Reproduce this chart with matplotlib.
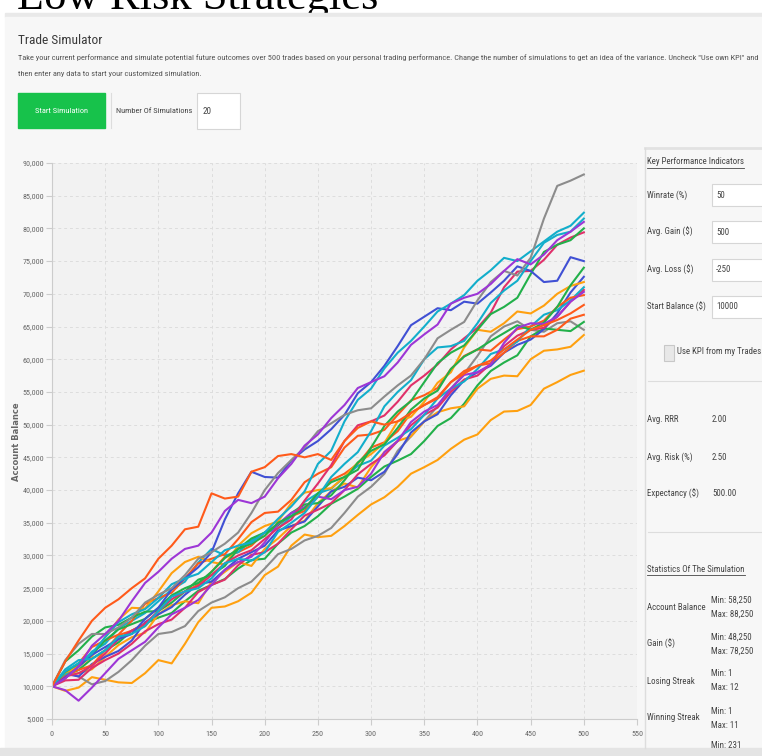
import matplotlib
matplotlib.use("Agg")
import matplotlib.pyplot as plt
from matplotlib import font_manager
from matplotlib.patches import Rectangle
from matplotlib.ticker import FuncFormatter

# balances every 12.5 trades
trades = [i * 12.5 for i in range(41)]

or1 = [10000, 13800, 17000, 20000, 22000, 23300, 25000, 26500, 29500, 31500, 34000, 34400, 39500, 38700, 39000, 42800, 43500, 45200, 45500, 45000, 45500,
       44600, 47500, 49500, 50500, 50000, 50500, 51800, 53000, 54000, 56500, 57800, 59000, 59800, 61500, 63000, 64500, 65200, 66000, 67000, 68300]
or2 = [10000, 11800, 12500, 13200, 15500, 17800, 18500, 19200, 21500, 23800, 24500, 25500, 27500, 29800, 30500, 31500, 33500, 34800, 36000, 36800, 39000,
       41500, 42500, 44000, 46500, 47300, 49000, 51800, 53000, 54200, 56500, 58200, 59000, 59400, 61000, 62800, 63500, 63500, 64500, 66200, 66800]
or3 = [10000, 11200, 13500, 16000, 17000, 17900, 20000, 22600, 23500, 24300, 26500, 28800, 29500, 30200, 32500, 35100, 36500, 36700, 38500, 41200, 42500,
       43500, 46500, 48300, 48500, 49200, 51500, 53700, 54500, 55600, 58500, 60500, 61500, 61300, 63000, 64600, 65000, 65900, 68000, 69400, 69800]
o1 = [10000, 9300, 9800, 11400, 11000, 10600, 10500, 12000, 14000, 13500, 16500, 19800, 22000, 22200, 23000, 24300, 27000, 28300, 31500, 33200, 32800,
      33000, 34500, 36200, 37800, 38900, 40500, 42500, 43500, 44600, 46300, 47700, 48500, 50700, 52000, 52100, 53000, 55500, 56500, 57600, 58250]
o2 = [10000, 11800, 12000, 12600, 14500, 16300, 17500, 18200, 21000, 22400, 23000, 22700, 26000, 27500, 29000, 28400, 31000, 32600, 34500, 35300, 38000,
      39800, 41000, 40400, 43500, 45800, 47500, 48200, 50500, 51900, 52500, 52800, 55500, 57000, 57500, 57400, 60000, 61300, 61500, 61900, 63700]
o3 = [10000, 12100, 13000, 14600, 17500, 20200, 22000, 21900, 24500, 27300, 29000, 29800, 29000, 28600, 31500, 33400, 34500, 35200, 38000, 39600, 40000,
      40300, 42000, 44200, 45500, 47200, 50500, 51200, 53500, 56400, 58000, 61800, 64500, 64200, 65500, 67300, 67000, 68200, 70000, 71200, 71800]
g1 = [10000, 14000, 16500, 18000, 18000, 19000, 20500, 22800, 24000, 25000, 27000, 29500, 30500, 31800, 33500, 36500, 40000, 42600, 44600, 46500, 49000,
      50200, 51500, 52200, 52500, 54300, 56000, 57500, 60000, 63200, 64500, 65700, 69000, 71800, 73500, 72800, 75500, 81500, 86500, 87300, 88250]
g2 = [10000, 12200, 11500, 10300, 10800, 12200, 14000, 16200, 18000, 18300, 19200, 21500, 22800, 23600, 25000, 26000, 28000, 30200, 31000, 32300, 33000,
      34200, 36500, 39000, 40500, 42500, 46000, 48200, 50500, 52800, 55500, 57800, 60500, 63500, 65000, 65800, 64500, 64200, 65500, 65800, 64500]
p1 = [10000, 11200, 13000, 16200, 18000, 20000, 23000, 25800, 27500, 29500, 31000, 31500, 33500, 36800, 38500, 38000, 39000, 41800, 44000, 46800, 48500,
      51000, 53000, 55600, 56500, 57400, 59500, 62200, 63800, 65300, 68500, 69400, 70000, 71500, 73500, 75300, 74500, 76000, 78200, 79500, 81000]
p2 = [10000, 9400, 7800, 9800, 12000, 14200, 15500, 16800, 19000, 21000, 22000, 23200, 25500, 27800, 29000, 29800, 32000, 34800, 36500, 37400, 39000,
      38600, 40000, 40500, 42500, 45800, 47500, 50400, 52000, 53000, 55500, 57600, 58000, 59200, 62500, 64800, 65500, 65400, 66500, 68800, 70300]
c1 = [10000, 12300, 13500, 15000, 17500, 19800, 21000, 21800, 23500, 25600, 26500, 27200, 29000, 30800, 31500, 32000, 33500, 35600, 37500, 39800, 44000,
      46000, 50500, 53800, 55500, 58600, 61000, 62800, 65000, 67300, 68500, 69800, 72000, 73600, 75500, 75000, 76500, 78000, 79500, 80400, 82400]
c2 = [10000, 12600, 14000, 14200, 15500, 17600, 18000, 19200, 21500, 23700, 24500, 25000, 26500, 28800, 29500, 29200, 30500, 33600, 35000, 36500, 39000,
      42000, 44000, 45800, 49000, 52800, 55000, 56800, 60000, 61800, 62000, 62800, 65500, 68600, 70500, 72000, 75000, 77800, 79000, 79500, 81500]
c3 = [10000, 11800, 13000, 15300, 16500, 18900, 20000, 21200, 23000, 24800, 26000, 28900, 31000, 30000, 30500, 32300, 33500, 34100, 36000, 38200, 39500,
      40200, 42000, 43700, 44500, 46800, 48000, 49300, 51500, 54000, 55500, 56600, 58500, 60800, 61500, 62700, 65000, 66800, 67500, 69000, 71000]
b1 = [10000, 11300, 13000, 14800, 16000, 17200, 18000, 20300, 22000, 24800, 26500, 28200, 30500, 35500, 39500, 42800, 42000, 41900, 44500, 46200, 47500,
      49300, 51500, 54800, 56500, 59000, 62000, 65200, 66500, 67800, 67500, 68800, 68500, 70200, 72000, 74200, 73500, 71800, 72000, 75600, 75000]
b2 = [10000, 11900, 11500, 13400, 14500, 15400, 17000, 19800, 21000, 22100, 24000, 25600, 26000, 27800, 29500, 30500, 31500, 33800, 34500, 35200, 37500,
      39800, 40500, 41900, 41500, 42800, 45500, 48800, 50500, 51600, 54500, 56800, 58000, 59000, 61000, 62200, 63000, 64600, 67000, 70200, 72600]
gr1 = [10000, 12200, 13500, 14900, 17000, 18700, 19500, 20300, 22000, 23900, 25000, 25800, 27500, 29600, 31000, 31800, 33000, 35000, 36000, 37200, 39500,
       41200, 42000, 43100, 46500, 49800, 52000, 53600, 56500, 59400, 61000, 62100, 64500, 66900, 68000, 69400, 73000, 76400, 77500, 78200, 80000]
gr2 = [10000, 13800, 15500, 17600, 19000, 19400, 20500, 21400, 21500, 22800, 24500, 26300, 27000, 28400, 31000, 32600, 33500, 34600, 36500, 37800, 38000,
       39200, 41500, 44200, 46000, 47000, 49500, 52300, 54000, 55200, 58500, 60400, 61500, 62800, 64000, 65200, 64500, 65600, 68000, 71300, 74000]
gr3 = [10000, 11600, 12500, 14200, 15500, 16700, 18500, 19600, 20500, 21200, 23000, 24600, 25500, 26400, 28000, 29300, 29500, 31800, 33500, 34500, 36000,
       37900, 39000, 40200, 42000, 43600, 44500, 45500, 47500, 49800, 51000, 53200, 56000, 58200, 59500, 60600, 63500, 64700, 64500, 64300, 65700]
r1 = [10000, 11500, 12000, 13100, 15000, 17200, 18500, 19600, 21500, 23300, 24500, 25300, 27000, 28800, 30000, 30800, 32500, 34200, 35500, 38400, 41000,
      43800, 47500, 49900, 50500, 51400, 53500, 56000, 57500, 59200, 61500, 63200, 64800, 67100, 71000, 73400, 73500, 75200, 77500, 78600, 79400]
r2 = [10000, 10900, 11000, 12800, 14000, 15000, 16500, 18400, 19500, 20200, 22000, 24400, 25500, 26300, 28500, 30100, 30500, 31800, 34000, 36100, 37000,
      38000, 40000, 42400, 44000, 45300, 47500, 49900, 51500, 52600, 55000, 56900, 57500, 59300, 62000, 63600, 64500, 64800, 66500, 68800, 70600]

GRAY = '#8c8c8c'
CYAN = '#12aecb'
PURPLE = '#9d36d6'
BLUE = '#4050d4'
GREEN = '#22b04a'
CRIMSON = '#e0306a'
ORED = '#ff5a1a'
ORANGE = '#ffa00f'

series = [
    (o1, ORANGE), (g2, GRAY), (gr3, GREEN), (o2, ORANGE), (b2, BLUE),
    (r2, CRIMSON), (or2, ORED), (c3, CYAN), (or3, ORED), (o3, ORANGE),
    (gr2, GREEN), (p2, PURPLE), (r1, CRIMSON), (gr1, GREEN), (b1, BLUE),
    (c2, CYAN), (c1, CYAN), (g1, GRAY), (p1, PURPLE), (or1, ORED),
]
for vals, _ in series:
    assert len(vals) == len(trades), len(vals)

kpi_labels = ['Winrate (%)', 'Avg. Gain ($)', 'Avg. Loss ($)', 'Start Balance ($)']
kpi_values = ['50', '500', '-250', '10000']
derived_labels = ['Avg. RRR', 'Avg. Risk (%)', 'Expectancy ($)']
derived_values = ['2.00', '2.50', '500.00']
stat_labels = ['Account Balance', 'Gain ($)', 'Losing Streak', 'Winning Streak']
stat_min = ['58,250', '48,250', '1', '1']
stat_max = ['88,250', '78,250', '12', '11']

# pick a narrow sans if one is there
fams = {f.name for f in font_manager.fontManager.ttflist}
cond_dejavu = any(f.name == 'DejaVu Sans' and str(f.stretch) in ('condensed', '300')
                  for f in font_manager.fontManager.ttflist)
NARROW = dict(family='Liberation Sans')
for cand in ['Roboto Condensed', 'Liberation Sans Narrow', 'Open Sans Condensed']:
    if cand in fams:
        NARROW = dict(family=cand)
        break
else:
    if cond_dejavu:
        NARROW = dict(family='DejaVu Sans', fontstretch='condensed')

TXT = '#444444'
W, H = 762, 756
fig = plt.figure(figsize=(W / 100, H / 100), dpi=100)
fig.patch.set_facecolor('white')
rend = fig.canvas.get_renderer()

# page layer in pixel coordinates
bg = fig.add_axes([0, 0, 1, 1])
bg.set_xlim(0, W)
bg.set_ylim(H, 0)
bg.axis('off')


def fit_size(s, width, **kw):
    t = fig.text(0, 0, s, fontsize=10, **kw)
    w = t.get_window_extent(rend).width
    t.remove()
    return 10 * width / w


SZ_PANEL = fit_size('Key Performance Indicators', 91, **NARROW) * 1.06
SZ_DESC = fit_size('then enter any data to start your customized simulation.', 182, **NARROW)
SZ_TICK = fit_size('90,000', 20, **NARROW) * 1.05
SZ_HEAD = fit_size('Trade Simulator', 80, **NARROW) * 1.05
SZ_BTN = fit_size('Number Of Simulations', 76, **NARROW)


def txt(x, y, s, size, color=TXT, z=4, **kw):
    return bg.text(x, y, s, fontsize=size, color=color, va='center', zorder=z, **NARROW, **kw)


bg.text(17, 9, 'Low Risk Strategies', family='Liberation Serif', fontsize=32,
        color='black', va='baseline', ha='left', zorder=1)
bg.add_patch(Rectangle((5, 13), W, 4, color='#e9e9e9', zorder=2))
bg.add_patch(Rectangle((5, 17), W, 731, color='#f7f7f7', zorder=2))
bg.add_patch(Rectangle((0, 748), W, 8, color='#e4e4e4', zorder=2))

txt(18, 40, 'Trade Simulator', SZ_HEAD, color='#3a3a3a')
txt(18, 58, 'Take your current performance and simulate potential future outcomes over 500 trades '
    'based on your personal trading performance. Change the number of simulations to get an idea '
    'of the variance. Uncheck "Use own KPI" and', SZ_DESC, color='#555555')
txt(18, 74, 'then enter any data to start your customized simulation.', SZ_DESC, color='#555555')

bg.add_patch(Rectangle((18, 93), 87, 35, color='#17c24b', zorder=3))
txt(61.5, 111, 'Start Simulation', SZ_BTN, color='white', ha='center')
bg.plot([111, 111], [93, 128], color='#dddddd', lw=0.8, zorder=3)
txt(116, 111, 'Number Of Simulations', SZ_BTN)
bg.add_patch(Rectangle((197, 93), 43, 36, facecolor='white', edgecolor='#d6d6d6', lw=0.8, zorder=3))
txt(203, 111, '20', SZ_BTN * 1.1)

# side panel
bg.plot([645, W], [148, 148], color='#e2e2e2', lw=2, zorder=3)
bg.plot([645, 645], [148, 748], color='#dddddd', lw=1, zorder=3)


def underlined(x, y, s):
    t = txt(x, y, s, SZ_PANEL)
    bb = t.get_window_extent(rend).transformed(bg.transData.inverted())
    bg.plot([bb.x0, bb.x1], [y + 6, y + 6], color=TXT, lw=0.6, zorder=4)


underlined(647, 162, 'Key Performance Indicators')
for i, (lab, val) in enumerate(zip(kpi_labels, kpi_values)):
    y = 195 + i * 37.3
    txt(647, y, lab, SZ_PANEL)
    bg.add_patch(Rectangle((712, y - 11), 60, 22, facecolor='white', edgecolor='#d6d6d6', lw=0.8, zorder=3))
    txt(716, y, val, SZ_PANEL)

bg.add_patch(Rectangle((664, 345), 10, 16, facecolor='#e8e8e8', edgecolor='#c8c8c8', lw=0.8, zorder=3))
txt(677, 351, 'Use KPI from my Trades', SZ_PANEL)
bg.plot([648, W], [381, 381], color='#dddddd', lw=0.8, zorder=3)

for i, (lab, val) in enumerate(zip(derived_labels, derived_values)):
    y = 420 + i * 37
    txt(647, y, lab, SZ_PANEL)
    txt(712, y, val, SZ_PANEL)

bg.plot([648, W], [532, 532], color='#dddddd', lw=0.8, zorder=3)
underlined(647, 569, 'Statistics Of The Simulation')
for i, lab in enumerate(stat_labels):
    y = 607 + i * 37
    txt(647, y, lab, SZ_PANEL)
    txt(711, y - 7, 'Min: ' + stat_min[i], SZ_PANEL)
    txt(711, y + 7, 'Max: ' + stat_max[i], SZ_PANEL)
txt(711, 746, 'Min: 231', SZ_PANEL)

bg.text(17, 442, 'Account Balance', family='DejaVu Sans', fontsize=6, fontweight='bold',
        color='#666666', rotation=90, ha='center', va='center', zorder=4)

# chart
L, R, T, B = 52, 637, 163, 719
ax = fig.add_axes([L / W, (H - B) / H, (R - L) / W, (B - T) / H])
ax.set_facecolor('#f2f2f2')
for vals, col in series:
    ax.plot(trades, vals, color=col, lw=1.5)

ax.set_xlim(0, 550)
ax.set_ylim(5000, 90000)
ax.set_xticks(range(0, 551, 50))
ax.set_yticks(range(5000, 90001, 5000))
ax.yaxis.set_major_formatter(FuncFormatter(lambda v, p: f'{int(v):,}'))
ax.grid(True, color='#dddddd', lw=0.7, linestyle=(0, (3, 3)))
ax.set_axisbelow(True)
for s in ['top', 'right']:
    ax.spines[s].set_visible(False)
for s in ['left', 'bottom']:
    ax.spines[s].set_color('#cccccc')
ax.tick_params(colors='#cccccc', labelcolor='#666666', labelsize=SZ_TICK, length=4, width=0.8)
ax.tick_params(axis='y', pad=1.5)
ax.tick_params(axis='x', pad=5)
for lab in ax.get_xticklabels() + ax.get_yticklabels():
    lab.set_family(NARROW['family'])
    if 'fontstretch' in NARROW:
        lab.set_fontstretch(NARROW['fontstretch'])

fig.savefig('out.png', dpi=100, facecolor=fig.get_facecolor())
